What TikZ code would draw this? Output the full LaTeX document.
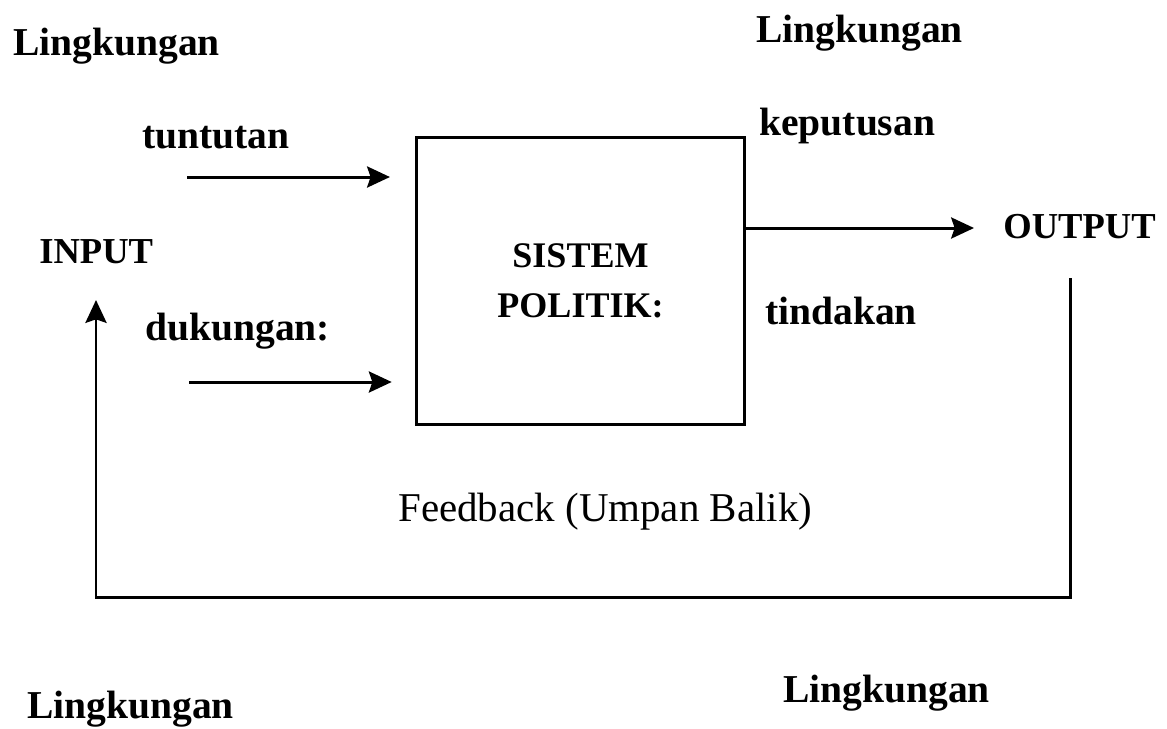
\documentclass[tikz,border=0pt]{standalone}
\usepackage{fontspec}
\setmainfont{Liberation Serif}
\usetikzlibrary{arrows.meta, positioning, calc}

\begin{document}
\begin{tikzpicture}[x=0.02cm, y=-0.02cm,
			lbl/.style={font=\bfseries\fontsize{22.5}{27}\selectfont, anchor=base west, inner sep=0pt},
			caps/.style={font=\bfseries\fontsize{20.8}{25}\selectfont, anchor=base west, inner sep=0pt},
			sysbox/.style={draw, line width=1.7pt, minimum width=6.58cm, minimum height=5.76cm, align=center,
				font=\bfseries\fontsize{20.5}{28.5}\selectfont},
			arr/.style={-{Stealth[length=13pt, width=12pt, inset=2pt]}, line width=1.7pt}]
			\useasboundingbox (0,0) rectangle (1167,728);
			% lingkungan di empat sudut
			\node[lbl] (lingTL) at (13,55) {Lingkungan};
			\node[lbl] (lingTR) at (756,42) {Lingkungan};
			\node[lbl] (lingBL) at (27,718) {Lingkungan};
			\node[lbl] (lingBR) at (783,702) {Lingkungan};
			% sistem politik
			\node[sysbox] (sys) at (580.5,281) {SISTEM\\POLITIK:};
			% input
			\node[lbl] (tuntutan) at (142,148) {tuntutan};
			\node[lbl] (dukungan) at (145,340) {dukungan:};
			\node[caps] (input) at (39,263) {INPUT};
			% output
			\node[lbl] (keputusan) at (759,135) {keputusan};
			\node[lbl] (tindakan) at (765,324) {tindakan};
			\node[caps] (output) at (1003,238) {OUTPUT};
			\node[font=\fontsize{23.3}{28}\selectfont, anchor=base west, inner sep=0pt] (fb) at (398,521) {Feedback (Umpan Balik)};
			\coordinate (tIn) at (187,177);
			\coordinate (dIn) at (189,382);
			\coordinate (outEnd) at (974,228);
			\coordinate (fbTop) at (1070,278);
			\coordinate (fbBase) at (96,597);
			\coordinate (fbTip) at (96,300);
			\draw[arr, shorten >=14pt] (tIn) -- (tIn -| sys.west);
			\draw[arr, shorten >=13pt] (dIn) -- (dIn -| sys.west);
			\draw[arr] (outEnd -| sys.east) -- (outEnd);
			\draw[arr] (fbTop) |- (fbBase) -- (fbTip);
		\end{tikzpicture}
\end{document}
